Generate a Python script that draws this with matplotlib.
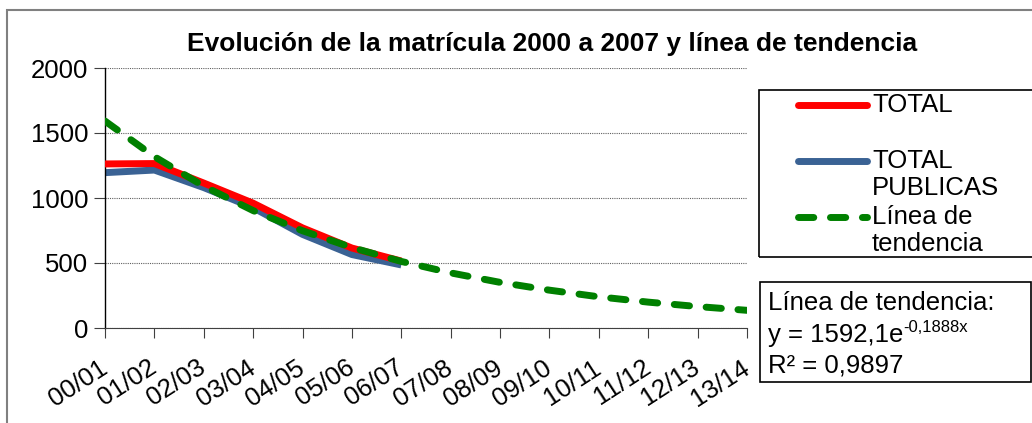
import matplotlib
matplotlib.use("Agg")
import matplotlib.pyplot as plt
from matplotlib.lines import Line2D
from matplotlib.patches import Rectangle

plt.rcParams['font.family'] = ['Liberation Sans', 'DejaVu Sans']

categories = ["00/01", "01/02", "02/03", "03/04", "04/05", "05/06", "06/07",
              "07/08", "08/09", "09/10", "10/11", "11/12", "12/13", "13/14"]
total = [1262, 1265, 1115, 960, 770, 615, 515]
total_publicas = [1195, 1215, 1080, 925, 720, 565, 485]
tendencia = [1592, 1318, 1091, 903, 748, 619, 512, 424, 351, 291, 240, 199, 165, 136]
y_ticks = [0, 500, 1000, 1500, 2000]

W, H = 1032, 423
fig = plt.figure(figsize=(W / 100, H / 100), dpi=100)
FS = 18.5
DASH = (2.2, 2.4)

def fx(px):
    return px / W

def fy(py):
    return 1 - py / H

# outer chart border
fig.add_artist(Rectangle((fx(7), fy(440)), fx(1040) - fx(7), fy(10) - fy(440),
                         transform=fig.transFigure, fill=False, edgecolor='#808080', lw=1.5))

ax = fig.add_axes([fx(105), fy(328), fx(747) - fx(105), fy(68) - fy(328)])
x = list(range(len(categories)))

ax.plot(x[:len(total)], total, color='#ff0000', lw=5, solid_capstyle='butt', zorder=3)
ax.plot(x[:len(total_publicas)], total_publicas, color='#3a6294', lw=5, solid_capstyle='butt', zorder=2)
ax.plot(x, tendencia, color='#008000', lw=5, dashes=DASH, dash_capstyle='round', zorder=4)

ax.set_xlim(0, len(categories) - 1)
ax.set_ylim(0, 2000)
ax.set_yticks(y_ticks)
ax.set_yticklabels([str(v) for v in y_ticks], fontsize=FS)
ax.set_xticks(x)
ax.set_xticklabels(categories, fontsize=FS, rotation=33, ha='right', va='center',
                   rotation_mode='anchor')
ax.tick_params(axis='x', length=7, color='#404040', pad=20)
ax.tick_params(axis='y', length=8, color='#404040', pad=4)
ax.yaxis.grid(True, linestyle=(0, (1, 1)), color='#606060', lw=0.8)
ax.set_axisbelow(True)
for s in ['top', 'right']:
    ax.spines[s].set_visible(False)
ax.spines['left'].set_color('black')
ax.spines['bottom'].set_color('#404040')
ax.spines['left'].set_linewidth(1.0)

fig.text(fx(552), fy(44), "Evolución de la matrícula 2000 a 2007 y línea de tendencia",
         fontsize=19, fontweight='bold', ha='center', va='center')

# legend box
fig.add_artist(Rectangle((fx(759), fy(257)), fx(1040) - fx(759), fy(90) - fy(257),
                         transform=fig.transFigure, fill=False, edgecolor='black', lw=1.2))
legend_items = [
    ('#ff0000', None, 105, ["TOTAL"]),
    ('#3a6294', None, 161, ["TOTAL", "PUBLICAS"]),
    ('#008000', DASH, 217, ["Línea de", "tendencia"]),
]
for color, dash, py, lines in legend_items:
    ln = Line2D([fx(798), fx(867)], [fy(py), fy(py)], transform=fig.transFigure,
                color=color, lw=5, solid_capstyle='round', dash_capstyle='round')
    if dash:
        ln.set_dashes(dash)
    fig.add_artist(ln)
    for i, t in enumerate(lines):
        fig.text(fx(872), fy(py + 27 * i), t, fontsize=FS, ha='left', va='center')

# trend equation box
fig.add_artist(Rectangle((fx(760), fy(382)), fx(1031) - fx(760), fy(282) - fy(382),
                         transform=fig.transFigure, fill=False, edgecolor='black', lw=1.2))
fig.text(fx(768), fy(303), "Línea de tendencia:", fontsize=FS, ha='left', va='center')
eq = fig.text(fx(768), fy(335), "y = 1592,1e", fontsize=FS, ha='left', va='center')
fig.text(fx(768), fy(365), "R² = 0,9897", fontsize=FS, ha='left', va='center')

fig.canvas.draw()
bb = eq.get_window_extent(renderer=fig.canvas.get_renderer())
fig.text(bb.x1 / W, fy(327), "-0,1888x", fontsize=12, ha='left', va='center')

fig.savefig("out.png", dpi=100)
